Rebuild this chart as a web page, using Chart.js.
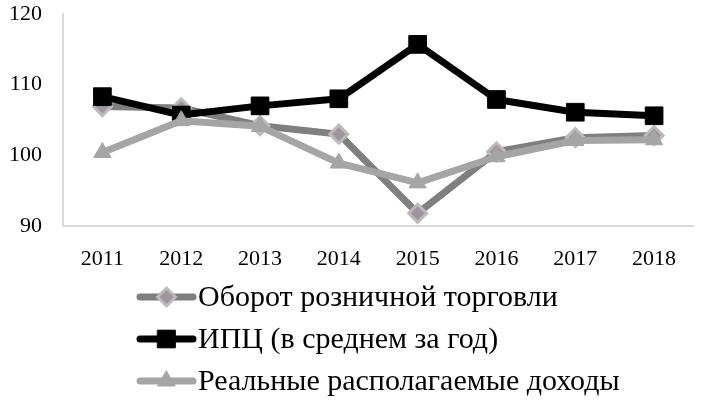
<!DOCTYPE html>
<html>
<head>
<meta charset="utf-8">
<script src="https://cdn.jsdelivr.net/npm/chart.js@4.4.1/dist/chart.umd.min.js"></script>
<style>
  html, body { margin: 0; padding: 0; background: #ffffff; }
  #wrap { width: 707px; height: 403px; }
</style>
</head>
<body>
<div id="wrap"><canvas id="chart" width="707" height="403"></canvas></div>
<script>
// Data
const years = ['2011', '2012', '2013', '2014', '2015', '2016', '2017', '2018'];
const retailTurnover = [106.9, 106.7, 104.2, 103.0, 91.8, 100.5, 102.5, 102.8];
const cpiAverage = [108.3, 105.7, 107.0, 108.0, 115.7, 107.9, 106.1, 105.6];
const realIncome = [100.4, 104.9, 104.1, 98.9, 96.1, 99.8, 102.1, 102.2];
const seriesNames = ['Оборот розничной торговли', 'ИПЦ (в среднем за год)', 'Реальные располагаемые доходы'];
const yTicks = [90, 100, 110, 120];

const serif = '"Liberation Serif", "Times New Roman", serif';

// Legend drawn as a vertical list under the axis
const legendRows = {
    id: 'legendRows',
    afterDraw(chart) {
        const ctx = chart.ctx;
        chart.data.datasets.forEach((ds, i) => {
            const y = 297 + i * 42;
            const x0 = 140, x1 = 193, xm = (x0 + x1) / 2;
            ctx.save();
            ctx.strokeStyle = ds.borderColor;
            ctx.lineWidth = 7;
            ctx.lineCap = 'round';
            ctx.beginPath();
            ctx.moveTo(x0, y);
            ctx.lineTo(x1, y);
            ctx.stroke();

            ctx.fillStyle = ds.pointBackgroundColor;
            ctx.strokeStyle = ds.pointBorderColor;
            ctx.lineWidth = ds.pointBorderWidth;
            const r = ds.pointRadius;
            ctx.beginPath();
            if (ds.pointStyle === 'rectRot') {
                ctx.moveTo(xm, y - r); ctx.lineTo(xm + r, y); ctx.lineTo(xm, y + r); ctx.lineTo(xm - r, y);
            } else if (ds.pointStyle === 'rect') {
                const s = r * Math.SQRT1_2;
                ctx.rect(xm - s, y - s, 2 * s, 2 * s);
            } else {
                ctx.moveTo(xm, y - r);
                ctx.lineTo(xm + r * 0.866, y + r / 2);
                ctx.lineTo(xm - r * 0.866, y + r / 2);
            }
            ctx.closePath();
            ctx.fill();
            if (ds.pointBorderWidth > 0) ctx.stroke();

            ctx.fillStyle = '#000000';
            ctx.font = '30px ' + serif;
            ctx.textBaseline = 'middle';
            ctx.textAlign = 'left';
            ctx.fillText(seriesNames[i], 198, y + 1);
            ctx.restore();
        });
    }
};

const ctx = document.getElementById('chart').getContext('2d');
new Chart(ctx, {
    type: 'line',
    data: {
        labels: years,
        datasets: [{
            label: seriesNames[0],
            data: retailTurnover,
            borderColor: '#7f7f7f',
            borderWidth: 7,
            pointStyle: 'rectRot',
            pointRadius: 9,
            pointBackgroundColor: '#9c969c',
            pointBorderColor: '#bdb9bd',
            pointBorderWidth: 3,
            order: 3
        }, {
            label: seriesNames[1],
            data: cpiAverage,
            borderColor: '#000000',
            borderWidth: 7,
            pointStyle: 'rect',
            pointRadius: 12.5,
            pointBackgroundColor: '#000000',
            pointBorderColor: '#000000',
            pointBorderWidth: 1,
            order: 2
        }, {
            label: seriesNames[2],
            data: realIncome,
            borderColor: '#a5a5a5',
            borderWidth: 7,
            pointStyle: 'triangle',
            pointRadius: 10,
            pointBackgroundColor: '#a5a5a5',
            pointBorderColor: '#a5a5a5',
            pointBorderWidth: 1,
            order: 1
        }]
    },
    options: {
        responsive: false,
        animation: false,
        layout: {
            padding: { top: 14, right: 10, bottom: 127, left: 0 }
        },
        elements: {
            line: { tension: 0, borderCapStyle: 'round', borderJoinStyle: 'round' }
        },
        plugins: {
            legend: { display: false },
            tooltip: { enabled: false }
        },
        scales: {
            x: {
                offset: true,
                grid: { display: false, drawTicks: false },
                border: { display: true, color: '#d9d9d9', width: 2 },
                ticks: {
                    color: '#000000',
                    font: { family: serif, size: 22 },
                    padding: 20,
                    maxRotation: 0
                },
                afterFit(scale) {
                    scale.height = 50;
                    scale.paddingLeft = 0;
                    scale.paddingRight = 0;
                }
            },
            y: {
                min: yTicks[0],
                max: yTicks[yTicks.length - 1],
                grid: { display: false, drawTicks: false },
                border: { display: true, color: '#d9d9d9', width: 2 },
                ticks: {
                    stepSize: 10,
                    color: '#000000',
                    font: { family: serif, size: 22 },
                    padding: 21
                },
                afterBuildTicks(scale) {
                    scale.ticks = yTicks.map(v => ({ value: v }));
                },
                afterFit(scale) {
                    scale.width = 63;
                    scale.paddingTop = 0;
                    scale.paddingBottom = 0;
                }
            }
        }
    },
    plugins: [legendRows]
});
</script>
</body>
</html>
